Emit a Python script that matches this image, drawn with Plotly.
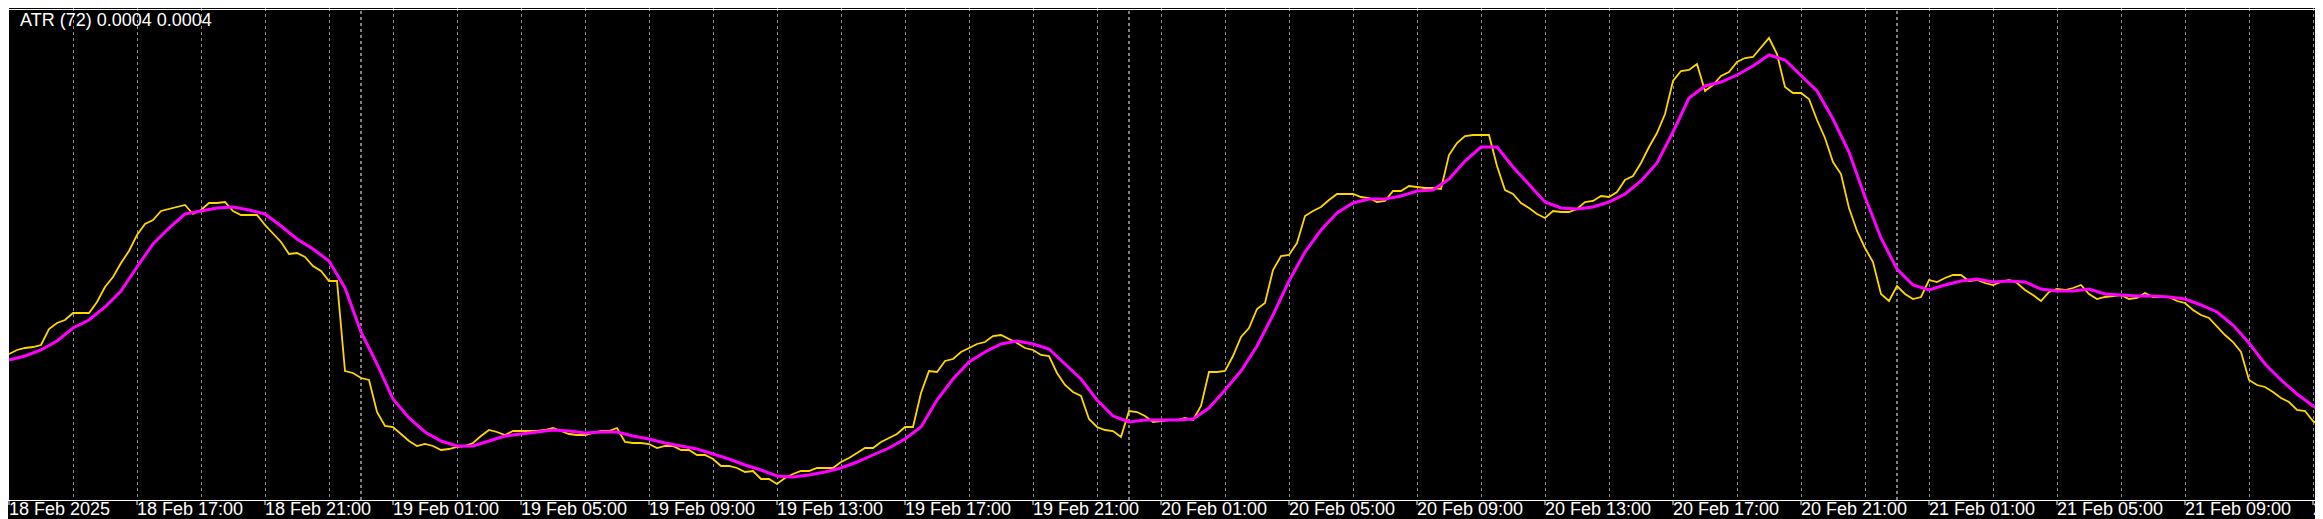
import pandas as pd
import plotly.graph_objects as go

# ---- data (values in 1e-6 price units) ----
start = pd.Timestamp("2025-02-18 13:00")

# ATR(72), one value per M15 bar
atr_e6 = [
    504, 508, 510, 511, 513, 529, 535, 538, 545, 545, 545, 556, 571, 581, 595, 607,
    623, 634, 638, 647, 649, 651, 653, 644, 648, 655, 655, 656, 647, 643, 643, 643,
    633, 624, 616, 604, 605, 601, 592, 587, 577, 577, 487, 485, 480, 478, 446, 432,
    431, 424, 417, 412, 414, 412, 408, 409, 411, 412, 415, 422, 428, 426, 423, 427,
    427, 427, 427, 428, 430, 427, 424, 423, 423, 425, 427, 427, 430, 416, 415, 415,
    414, 410, 412, 412, 408, 408, 403, 403, 399, 392, 392, 390, 386, 387, 379, 379,
    374, 380, 384, 387, 387, 390, 390, 390, 396, 400, 405, 410, 410, 416, 420, 424,
    431, 431, 465, 487, 486, 497, 499, 506, 510, 514, 516, 522, 523, 519, 515, 510,
    508, 503, 502, 485, 473, 466, 462, 439, 431, 428, 427, 421, 447, 446, 442, 436,
    437, 438, 438, 440, 438, 452, 486, 486, 487, 502, 521, 530, 549, 555, 588, 602,
    603, 615, 642, 647, 651, 658, 664, 664, 664, 661, 660, 656, 657, 667, 667, 672,
    671, 670, 670, 669, 703, 715, 722, 723, 723, 723, 692, 668, 664, 655, 650, 644,
    640, 647, 646, 646, 649, 656, 657, 662, 661, 666, 678, 682, 695, 711, 725, 744,
    777, 787, 788, 794, 767, 773, 782, 786, 796, 800, 801, 810, 820, 804, 771, 765,
    765, 759, 738, 720, 696, 684, 650, 627, 610, 596, 564, 557, 572, 564, 559, 561,
    578, 576, 580, 583, 583, 577, 578, 575, 573, 576, 578, 575, 568, 563, 557, 566,
    569, 568, 570, 573, 564, 559, 561, 562, 563, 559, 560, 565, 561, 561, 561, 557,
    555, 548, 543, 540, 531, 523, 516, 506, 478, 473, 471, 466, 460, 456, 448, 447,
    437, 431, 423,
]

# Signal line (moving average of ATR), read every 30 minutes
ma_e6 = [
    498, 502, 508, 517, 530, 538, 551, 567, 591, 614, 630, 644, 647, 650, 651, 648,
    644, 632, 619, 609, 597, 570, 526, 494, 459, 440, 426, 417, 412, 412, 417, 422,
    424, 426, 428, 427, 425, 426, 426, 422, 419, 415, 412, 409, 404, 399, 393, 388,
    382, 381, 383, 386, 390, 396, 403, 410, 419, 431, 458, 479, 496, 506, 514, 517,
    514, 509, 494, 479, 458, 442, 436, 438, 438, 438, 439, 450, 468, 487, 512, 543,
    577, 606, 628, 645, 655, 659, 659, 662, 667, 668, 679, 697, 711, 711, 691, 673,
    656, 650, 649, 651, 656, 664, 677, 695, 726, 760, 772, 776, 783, 792, 803, 798,
    783, 767, 739, 706, 661, 620, 589, 573, 568, 573, 577, 579, 576, 577, 576, 569,
    567, 567, 569, 564, 563, 562, 562, 561, 559, 553, 546, 533, 515, 494, 478, 464,
    452, 442,
]

tick_labels = [
    "18 Feb 2025", "18 Feb 17:00", "18 Feb 21:00",
    "19 Feb 01:00", "19 Feb 05:00", "19 Feb 09:00", "19 Feb 13:00", "19 Feb 17:00", "19 Feb 21:00",
    "20 Feb 01:00", "20 Feb 05:00", "20 Feb 09:00", "20 Feb 13:00", "20 Feb 17:00", "20 Feb 21:00",
    "21 Feb 01:00", "21 Feb 05:00", "21 Feb 09:00", "21 Feb 13:00",
]
day_separators = ["2025-02-19 00:00", "2025-02-20 00:00", "2025-02-21 00:00"]

atr = [v * 1e-6 for v in atr_e6]
ma = [v * 1e-6 for v in ma_e6]
t_atr = pd.date_range(start, periods=len(atr), freq="15min")
t_ma = pd.date_range(start, periods=len(ma), freq="30min")
tick_times = pd.date_range(start, periods=len(tick_labels), freq="4h")
grid_times = pd.date_range(start, periods=2 * len(tick_labels), freq="2h")

W, H = 2323, 519
PLOT_B = 27
PLOT_H = H - PLOT_B
px_per_hour = 32.0
x0 = start - pd.Timedelta(hours=1 / px_per_hour)
x1 = x0 + pd.Timedelta(hours=W / px_per_hour)

GRID = "#8A8F99"
FONT = "Liberation Sans, Arial, sans-serif"

fig = go.Figure()
fig.add_trace(go.Scatter(x=t_atr, y=atr, mode="lines",
                         line=dict(color="#FFD700", width=1.8), hoverinfo="skip"))
fig.add_trace(go.Scatter(x=t_ma, y=ma, mode="lines",
                         line=dict(color="#FF00FF", width=3), hoverinfo="skip"))

shapes = []
for d in day_separators:
    shapes.append(dict(type="line", xref="x", yref="paper", x0=d, x1=d, y0=0, y1=1,
                       line=dict(color="#FFFFFF", width=1, dash="3px,3px"), layer="below"))
# tick marks under the time axis at each label
for t in tick_times:
    shapes.append(dict(type="line", xref="x", yref="paper", x0=t, x1=t,
                       y0=0, y1=-5 / PLOT_H, line=dict(color="#FFFFFF", width=1)))
# top and left frame lines
shapes.append(dict(type="line", xref="paper", yref="paper", x0=0, x1=1,
                   y0=1 - 1.5 / PLOT_H, y1=1 - 1.5 / PLOT_H,
                   line=dict(color="#FFFFFF", width=1)))
shapes.append(dict(type="line", xref="paper", yref="paper", x0=0.5 / W, x1=0.5 / W,
                   y0=0, y1=1, line=dict(color="#FFFFFF", width=1)))

annotations = []
for t, lab in zip(tick_times, tick_labels):
    annotations.append(dict(x=t, y=0, xref="x", yref="paper", text=lab, showarrow=False,
                            xanchor="left", yanchor="middle", xshift=-2, yshift=-9,
                            font=dict(family=FONT, size=18, color="#FFFFFF")))
annotations.append(dict(x=12 / W, y=1 - 12 / PLOT_H, xref="paper", yref="paper",
                        text=f"ATR (72) {atr[-1]:.4f} {ma[-1]:.4f}", showarrow=False,
                        xanchor="left", yanchor="middle", xshift=-2,
                        font=dict(family=FONT, size=18, color="#FFFFFF")))

fig.update_layout(
    width=W, height=H,
    margin=dict(l=0, r=0, t=0, b=PLOT_B, pad=0),
    paper_bgcolor="#000000", plot_bgcolor="#000000",
    showlegend=False,
    shapes=shapes, annotations=annotations,
    xaxis=dict(
        type="date", range=[x0, x1], fixedrange=True,
        tickmode="array", tickvals=list(grid_times),
        showticklabels=False, ticks="",
        showline=True, linecolor="#FFFFFF", linewidth=1,
        showgrid=True, gridcolor=GRID, gridwidth=1, griddash="3px,3px",
        zeroline=False,
    ),
    yaxis=dict(range=[358e-6, 850e-6], showgrid=False, zeroline=False,
               showticklabels=False, showline=False, ticks="", fixedrange=True),
)

fig.write_html("out.html")
